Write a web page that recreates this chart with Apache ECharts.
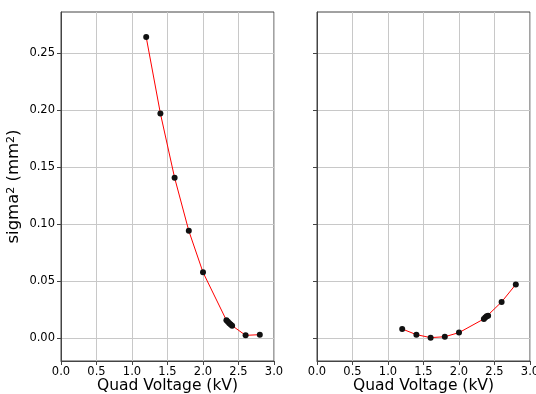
<!DOCTYPE html>
<html><head><meta charset="utf-8">
<script src="https://cdn.jsdelivr.net/npm/echarts@6/dist/echarts.min.js"></script>
<style>html,body{margin:0;padding:0;background:#fff}#c{width:536px;height:394px}</style>
</head><body><div id="c"></div>
<script>
const leftX = [1.2, 1.4, 1.6, 1.8, 2.0, 2.33, 2.35, 2.37, 2.39, 2.41, 2.6, 2.8];
const leftY = [0.264, 0.197, 0.1406, 0.094, 0.0576, 0.0155, 0.0142, 0.013, 0.0118, 0.0108, 0.0023, 0.0029];
const rightX = [1.2, 1.4, 1.6, 1.8, 2.0, 2.35, 2.37, 2.39, 2.41, 2.6, 2.8];
const rightY = [0.0079, 0.0029, 0.0003, 0.0011, 0.0047, 0.0167, 0.018, 0.019, 0.0195, 0.0316, 0.047];
const yTicks = [0.00, 0.05, 0.10, 0.15, 0.20, 0.25];
const xTicks = [0.0, 0.5, 1.0, 1.5, 2.0, 2.5, 3.0];

const font = 'DejaVu Sans';
const pair = (xs, ys) => xs.map((x, i) => [x, ys[i]]);
function xAxis(idx) {
  return {
    type: 'value', gridIndex: idx, min: 0, max: 3, interval: 0.5,
    name: 'Quad Voltage (kV)', nameLocation: 'middle', nameGap: 17, nameMoveOverlap: false,
    nameTextStyle: { fontFamily: font, fontSize: 15.5, color: '#000' },
    axisLine: { show: true, onZero: false, lineStyle: { color: '#444', width: 1 } },
    axisTick: { show: true, inside: false, length: 4, lineStyle: { color: '#444' } },
    axisLabel: { fontFamily: font, fontSize: 11.5, color: '#000', margin: 5, formatter: v => v.toFixed(1) },
    splitLine: { show: true, lineStyle: { color: '#c8c8c8', width: 1 } }
  };
}
function yAxis(idx, labels) {
  return {
    type: 'value', gridIndex: idx, min: -0.0202, max: 0.286,
    name: labels ? 'sigma{sup|2} (mm{sup|2})' : '', nameLocation: 'middle', nameGap: 36, nameRotate: 90, nameMoveOverlap: false,
    nameTextStyle: { fontFamily: font, fontSize: 16.5, color: '#000', lineHeight: 22,
      rich: { sup: { fontFamily: font, fontSize: 11, color: '#000', verticalAlign: 'bottom', padding: [0, 0, 8, 0] } } },
    axisLine: { show: true, onZero: false, lineStyle: { color: '#444', width: 1 } },
    axisTick: { show: true, length: 4, lineStyle: { color: '#444' }, customValues: yTicks },
    axisLabel: { show: labels, fontFamily: font, fontSize: 11.5, color: '#000', margin: 6,
      customValues: yTicks, formatter: v => v.toFixed(2) },
    splitLine: { show: true, lineStyle: { color: '#c8c8c8', width: 1 } }
  };
}
function series(idx, data) {
  return {
    type: 'line', xAxisIndex: idx, yAxisIndex: idx, data: data,
    symbol: 'circle', symbolSize: 6,
    itemStyle: { color: '#111' },
    lineStyle: { color: '#ff0000', width: 1 },
    z: 3
  };
}
const chart = echarts.init(document.getElementById('c'), null, { renderer: 'canvas' });
chart.setOption({
  animation: false,
  backgroundColor: '#fff',
  grid: [
    { left: 61, top: 12, width: 213, height: 349, outerBoundsMode: 'none', containLabel: false, show: true, borderColor: '#444', borderWidth: 1, backgroundColor: 'transparent' },
    { left: 317, top: 12, width: 213, height: 349, outerBoundsMode: 'none', containLabel: false, show: true, borderColor: '#444', borderWidth: 1, backgroundColor: 'transparent' }
  ],
  xAxis: [xAxis(0), xAxis(1)],
  yAxis: [yAxis(0, true), yAxis(1, false)],
  series: [series(0, pair(leftX, leftY)), series(1, pair(rightX, rightY))]
});
</script></body></html>
